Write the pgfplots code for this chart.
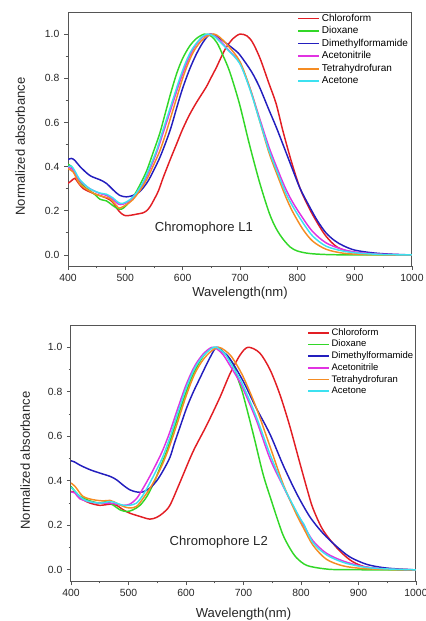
\documentclass[border=0pt]{standalone}
\usepackage{fontspec}
\setmainfont{Liberation Sans}
\usepackage{pgfplots}
\pgfplotsset{compat=1.18}

\definecolor{cchl}{RGB}{226,30,36}
\definecolor{cdio}{RGB}{50,215,40}
\definecolor{cdmf}{RGB}{35,30,190}
\definecolor{cace}{RGB}{225,50,225}
\definecolor{cthf}{RGB}{245,140,35}
\definecolor{cact}{RGB}{60,225,240}
\definecolor{axgray}{RGB}{85,85,85}

\pgfplotsset{
  spec/.style={
    scale only axis,
    xmin=400, xmax=1000,
    ymin=-0.05, ymax=1.1,
    xtick={400,500,600,700,800,900,1000},
    ytick={0,0.2,0.4,0.6,0.8,1.0},
    minor x tick num=1, minor y tick num=1,
    tick pos=left, tick align=outside,
    major tick length=3pt, minor tick length=1.8pt,
    axis line style={axgray, line width=0.75pt},
    every tick/.style={axgray, line width=0.6pt},
    /pgf/number format/assume math mode=true,
    tick label style={font=\fontsize{7.8}{9}\selectfont, text=black!85},
    xticklabel style={/pgf/number format/1000 sep={}},
    yticklabel style={/pgf/number format/.cd, fixed, fixed zerofill, precision=1},
    label style={font=\fontsize{9.8}{11}\selectfont, text=black!85},
    ylabel={Normalized absorbance},
    xlabel={Wavelength(nm)},
    legend cell align=left,
    legend image code/.code={\draw[##1, line width=1.3pt] (0pt,0pt) -- (15.75pt,0pt);},
    every axis plot/.append style={line width=1.1pt, smooth, tension=0.5, no markers},
  },
}

\begin{document}
\begin{tikzpicture}
\useasboundingbox (0,0) rectangle (318.75pt,-465.75pt);
\clip (0,0) rectangle (318.75pt,-465.75pt);

% ---------- Chromophore L1 ----------
\begin{axis}[spec,
  at={(51pt,-199.5pt)}, anchor=south west,
  width=258pt, height=190.5pt,
  ylabel style={at={(axis description cs:-0.139,0.47)}, anchor=center, rotate=0},
  xlabel style={at={(axis description cs:0.5,0)}, anchor=center, yshift=-20.25pt},
  legend style={at={(0.666,1.0)}, anchor=north west, draw=none, fill=none,
    inner sep=0pt, row sep=0pt,
    font=\fontsize{7.5}{8}\selectfont,
    nodes={inner sep=1.3pt, text height=5.4pt, text depth=1.4pt}},
]
\addplot[cchl] coordinates {
(400,0.324)(406,0.336)(412,0.347)(418,0.326)(427,0.300)(444,0.279)(461,0.264)(473,0.250)(480,0.232)(486,0.208)(493,0.188)(500,0.178)(510,0.180)(520,0.185)(530,0.190)(537,0.200)(543,0.218)(550,0.250)(558,0.292)(566,0.350)(578,0.430)(589,0.500)(600,0.570)(612,0.635)(624,0.690)(641,0.760)(650,0.805)(659,0.850)(668,0.900)(676,0.940)(688,0.980)(700,1.000)(712,0.992)(722,0.962)(735,0.890)(750,0.780)(763,0.685)(775,0.560)(790,0.420)(805,0.300)(821,0.210)(835,0.145)(850,0.085)(870,0.035)(900,0.010)(950,0.002)(1000,0)
};
\addlegendentry{Chloroform}
\addplot[cdio] coordinates {
(400,0.410)(406,0.400)(415,0.355)(427,0.312)(444,0.280)(456,0.252)(467,0.245)(476,0.228)(485,0.212)(493,0.207)(502,0.225)(514,0.264)(525,0.315)(537,0.380)(548,0.460)(560,0.550)(570,0.645)(580,0.740)(590,0.825)(600,0.890)(612,0.945)(624,0.980)(638,1.000)(650,0.990)(660,0.960)(670,0.905)(682,0.830)(699,0.685)(716,0.505)(734,0.330)(751,0.190)(763,0.120)(775,0.072)(788,0.035)(800,0.018)(820,0.007)(850,0.002)(900,0)(1000,0)
};
\addlegendentry{Dioxane}
\addplot[cdmf] coordinates {
(400,0.432)(406,0.437)(412,0.428)(421,0.400)(438,0.360)(456,0.340)(467,0.324)(479,0.294)(490,0.270)(502,0.263)(514,0.270)(525,0.286)(537,0.324)(545,0.360)(560,0.440)(572,0.520)(580,0.580)(590,0.670)(600,0.755)(612,0.840)(624,0.910)(636,0.965)(648,1.000)(660,0.990)(675,0.960)(690,0.930)(700,0.905)(720,0.830)(734,0.760)(750,0.660)(763,0.580)(775,0.500)(792,0.385)(805,0.300)(821,0.220)(835,0.155)(850,0.100)(865,0.065)(880,0.042)(900,0.022)(930,0.010)(960,0.004)(1000,0)
};
\addlegendentry{Dimethylformamide}
\addplot[cace] coordinates {
(400,0.395)(406,0.392)(412,0.370)(421,0.335)(438,0.300)(456,0.278)(467,0.270)(479,0.250)(488,0.230)(496,0.230)(508,0.245)(519,0.275)(531,0.322)(543,0.390)(554,0.460)(565,0.545)(575,0.625)(585,0.705)(595,0.785)(605,0.855)(615,0.915)(625,0.958)(636,0.988)(648,1.000)(658,0.988)(668,0.962)(682,0.922)(700,0.868)(718,0.750)(734,0.620)(751,0.485)(769,0.365)(780,0.298)(792,0.238)(810,0.165)(827,0.105)(850,0.055)(879,0.025)(908,0.011)(950,0.003)(1000,0)
};
\addlegendentry{Acetonitrile}
\addplot[cthf] coordinates {
(400,0.390)(409,0.376)(421,0.320)(444,0.280)(461,0.264)(473,0.255)(485,0.222)(490,0.212)(502,0.228)(513,0.250)(525,0.290)(537,0.340)(548,0.400)(560,0.470)(570,0.545)(580,0.630)(590,0.715)(600,0.800)(610,0.870)(620,0.925)(632,0.968)(644,0.993)(655,1.000)(665,0.985)(680,0.945)(700,0.875)(718,0.750)(734,0.610)(751,0.460)(769,0.335)(780,0.262)(792,0.195)(810,0.115)(827,0.062)(850,0.026)(880,0.008)(920,0.002)(1000,0)
};
\addlegendentry{Tetrahydrofuran}
\addplot[cact] coordinates {
(400,0.400)(406,0.402)(412,0.380)(421,0.340)(438,0.300)(456,0.280)(467,0.275)(479,0.257)(488,0.237)(496,0.234)(508,0.250)(519,0.280)(531,0.330)(543,0.400)(554,0.470)(565,0.560)(575,0.640)(585,0.720)(595,0.800)(605,0.870)(615,0.925)(625,0.962)(635,0.990)(644,1.000)(655,0.990)(665,0.965)(680,0.925)(700,0.865)(718,0.745)(734,0.610)(751,0.470)(769,0.350)(780,0.280)(792,0.220)(810,0.145)(827,0.085)(850,0.040)(879,0.018)(908,0.008)(950,0.002)(1000,0)
};
\addlegendentry{Acetone}
\node[font=\fontsize{9.8}{11}\selectfont, text=black!85] at (axis cs:637,0.12) {Chromophore L1};
\end{axis}

% ---------- Chromophore L2 ----------
\begin{axis}[spec,
  at={(53.25pt,-435.75pt)}, anchor=south west,
  width=258.75pt, height=192pt,
  ylabel style={at={(axis description cs:-0.133,0.47)}, anchor=center, rotate=0},
  xlabel style={at={(axis description cs:0.5,0)}, anchor=center, yshift=-24.75pt},
  legend style={at={(0.684,0.994)}, anchor=north west, draw=none, fill=none,
    inner sep=0pt, row sep=0pt,
    font=\fontsize{7.1}{8}\selectfont,
    nodes={inner sep=1.2pt, text height=5.1pt, text depth=1.3pt}},
]
\addplot[cchl] coordinates {
(400,0.352)(407,0.350)(414,0.330)(421,0.315)(433,0.300)(450,0.290)(468,0.295)(479,0.290)(491,0.270)(502,0.255)(520,0.240)(537,0.228)(549,0.236)(560,0.255)(572,0.290)(589,0.390)(612,0.530)(636,0.650)(659,0.775)(676,0.878)(694,0.965)(708,1.000)(728,0.975)(746,0.900)(763,0.790)(780,0.650)(798,0.480)(812,0.350)(821,0.275)(838,0.180)(862,0.100)(885,0.045)(908,0.016)(940,0.004)(1000,0)
};
\addlegendentry{Chloroform}
\addplot[cdio] coordinates {
(400,0.375)(408,0.350)(416,0.330)(433,0.310)(450,0.300)(462,0.307)(474,0.290)(485,0.270)(497,0.262)(508,0.270)(520,0.290)(532,0.330)(544,0.390)(555,0.460)(566,0.530)(580,0.640)(595,0.760)(610,0.865)(625,0.940)(638,0.985)(650,1.000)(660,0.990)(670,0.965)(682,0.925)(690,0.860)(699,0.790)(717,0.610)(734,0.430)(748,0.315)(760,0.220)(769,0.155)(780,0.100)(792,0.055)(810,0.020)(840,0.005)(870,0.001)(1000,0)
};
\addlegendentry{Dioxane}
\addplot[cdmf] coordinates {
(400,0.490)(406,0.485)(416,0.470)(433,0.450)(450,0.435)(468,0.420)(479,0.405)(491,0.380)(502,0.360)(514,0.350)(525,0.350)(537,0.367)(549,0.400)(560,0.445)(572,0.505)(580,0.570)(590,0.645)(601,0.727)(612,0.795)(624,0.860)(641,0.950)(653,1.000)(664,0.980)(676,0.950)(699,0.850)(722,0.728)(746,0.610)(769,0.470)(792,0.345)(815,0.240)(838,0.165)(862,0.105)(885,0.058)(914,0.025)(943,0.010)(970,0.004)(1000,0)
};
\addlegendentry{Dimethylformamide}
\addplot[cace] coordinates {
(400,0.350)(407,0.345)(415,0.320)(433,0.305)(450,0.300)(468,0.300)(479,0.295)(491,0.290)(502,0.295)(514,0.320)(525,0.365)(537,0.420)(549,0.480)(560,0.540)(572,0.620)(585,0.720)(600,0.830)(615,0.915)(630,0.970)(645,1.000)(655,0.990)(665,0.965)(676,0.920)(690,0.860)(699,0.815)(722,0.675)(746,0.500)(769,0.375)(792,0.258)(805,0.198)(821,0.130)(844,0.075)(873,0.040)(908,0.015)(943,0.005)(1000,0)
};
\addlegendentry{Acetonitrile}
\addplot[cthf] coordinates {
(400,0.390)(407,0.375)(421,0.330)(439,0.315)(456,0.310)(468,0.312)(479,0.300)(491,0.285)(502,0.278)(514,0.285)(525,0.320)(537,0.365)(549,0.420)(560,0.480)(572,0.560)(585,0.660)(600,0.780)(615,0.880)(630,0.945)(645,0.985)(657,1.000)(668,0.985)(680,0.955)(699,0.870)(722,0.730)(746,0.555)(769,0.385)(792,0.250)(805,0.185)(821,0.110)(844,0.048)(873,0.018)(908,0.006)(950,0.002)(1000,0)
};
\addlegendentry{Tetrahydrofuran}
\addplot[cact] coordinates {
(400,0.370)(408,0.350)(415,0.330)(427,0.310)(450,0.300)(468,0.307)(479,0.300)(491,0.290)(502,0.290)(514,0.300)(525,0.335)(537,0.390)(549,0.450)(560,0.510)(572,0.595)(585,0.700)(600,0.815)(615,0.905)(630,0.962)(648,1.000)(658,0.992)(668,0.970)(676,0.935)(690,0.875)(699,0.830)(722,0.690)(746,0.520)(769,0.378)(792,0.262)(800,0.225)(805,0.205)(821,0.122)(844,0.068)(873,0.034)(908,0.013)(943,0.005)(1000,0)
};
\addlegendentry{Acetone}
\node[font=\fontsize{9.8}{11}\selectfont, text=black!85] at (axis cs:657,0.125) {Chromophore L2};
\end{axis}
\end{tikzpicture}
\end{document}
